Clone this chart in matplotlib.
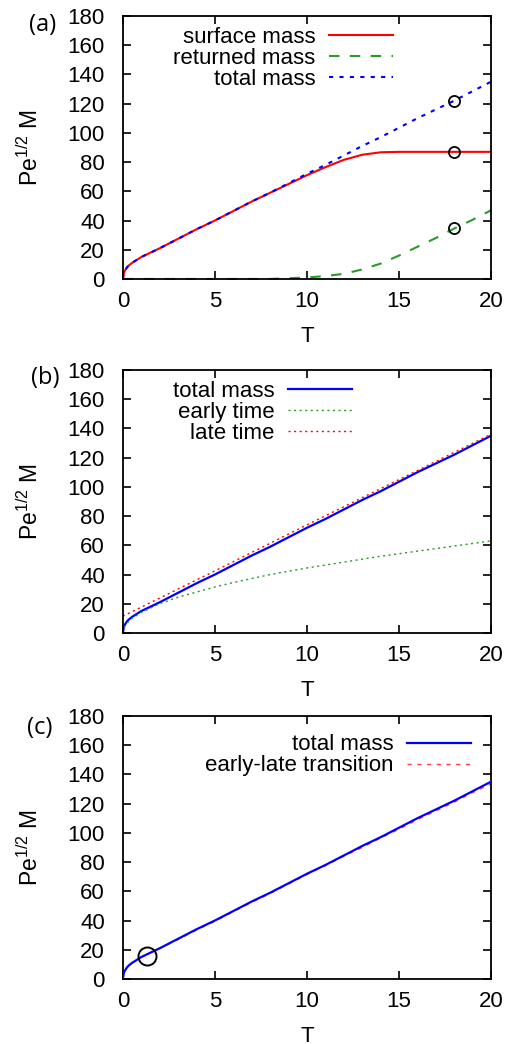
import matplotlib
matplotlib.use("Agg")
import matplotlib.pyplot as plt

plt.rcParams["font.family"] = ["Liberation Sans", "DejaVu Sans"]
plt.rcParams["mathtext.fontset"] = "custom"
plt.rcParams["mathtext.rm"] = "Liberation Sans"
plt.rcParams["mathtext.it"] = "Liberation Sans"

# time axis shared by the simulated curves
T = [0, 0.05, 0.1, 0.2, 0.3, 0.5, 0.75, 1, 1.5, 2, 3, 4, 5, 6, 7, 8, 9,
     10, 11, 12, 13, 14, 15, 16, 17, 18, 19, 20]
total_mass = [0, 4, 5.5, 7.5, 9, 11, 13, 15, 18, 21, 27.5, 34, 40, 46.5, 53,
              59, 65.5, 72, 78, 84.5, 91, 97, 103.5, 110, 116, 122, 128.5, 135]
surface_mass = [0, 4, 5.5, 7.5, 9, 11, 13, 15, 18, 21, 27.5, 34, 40, 46.5, 53,
                59, 65, 71, 76.5, 81.5, 85, 86.7, 87, 87, 87, 87, 87, 87]
returned_mass = [0, 0, 0, 0, 0, 0, 0, 0, 0, 0, 0, 0, 0, 0, 0, 0, 0.5,
                 1, 2, 3.5, 6.5, 10.5, 16, 22, 28, 34.5, 40.5, 47]

# asymptotic approximations (panel b)
T_early = [0, 0.1, 0.25, 0.5, 1, 2, 3, 4, 5, 6, 8, 10, 12, 14, 16, 18, 20]
early_time = [0, 4.4, 7, 10, 14, 20, 24.5, 28, 31.5, 34.5, 40, 44.5, 48.5,
              52.5, 56, 59.5, 63]
T_late = [0, 5, 10, 15, 20]
late_time = [11.5, 42.5, 74, 105, 136]

# blended approximation (panel c)
transition = [0, 4, 5.5, 7.5, 9, 11, 13, 15, 18, 21, 27, 33.5, 39.5, 46, 52.5,
              58.5, 65, 71.5, 77.5, 84, 90, 96.5, 102.5, 109, 115, 121, 127.5, 133.5]

# circled points
T_mark_a = 18
mark_a = [122, 87, 35]
T_mark_c = 1.3
mark_c = 15.7

fig = plt.figure(figsize=(5.12, 10.44), dpi=100)
L, W, H = 0.240, 0.719, 0.2519
ax_a = fig.add_axes([L, 0.7328, W, H])
ax_b = fig.add_axes([L, 0.3937, W, H])
ax_c = fig.add_axes([L, 0.0623, W, H])

FS = 16


def style(ax, tag, tag_x, tag_y):
    ax.set_xlim(0, 20)
    ax.set_ylim(0, 180)
    ax.set_xticks([0, 5, 10, 15, 20])
    ax.set_yticks(range(0, 181, 20))
    ax.tick_params(direction="in", length=6, width=1.2, labelsize=FS,
                   top=True, right=True)
    ax.tick_params(axis="x", pad=9)
    ax.tick_params(axis="y", pad=13)
    for s in ax.spines.values():
        s.set_linewidth(1.3)
    ax.set_xlabel("T", fontsize=FS)
    ax.xaxis.set_label_coords(0.5, -0.18)
    ax.set_ylabel(r"Pe$^{1/2}$ M", fontsize=FS + 0.5)
    ax.yaxis.set_label_coords(-0.217, 0.5)
    ax.text(tag_x, tag_y, tag, transform=ax.transAxes, fontsize=FS + 1,
            ha="center", va="center", family=["Open Sans", "DejaVu Sans"])


def legend(ax, x, y):
    ax.legend(loc="upper right", bbox_to_anchor=(x, y), frameon=False,
              markerfirst=False, fontsize=FS, handlelength=2.9,
              handletextpad=0.6, labelspacing=0.0, borderpad=0,
              borderaxespad=0)


# panel (a)
ax_a.plot(T, surface_mass, color="#ff0000", lw=1.5, label="surface mass")
ax_a.plot(T, returned_mass, color="#2a9a2a", lw=1.5, dashes=(5, 5),
          label="returned mass", clip_on=False)
ax_a.plot(T, total_mass, color="#0000ff", lw=1.5, dashes=(2, 3),
          label="total mass")
for v in mark_a:
    ax_a.plot(T_mark_a, v, "o", ms=8, mfc="none", mec="black", mew=1.3)
style(ax_a, "(a)", -0.217, 0.966)
legend(ax_a, 0.734, 0.958)

# panel (b)
ax_b.plot(T, total_mass, color="#0000ff", lw=1.6, label="total mass")
ax_b.plot(T_early, early_time, color="#2a9a2a", lw=1.0, dashes=(1.5, 2.5),
          label="early time")
ax_b.plot(T_late, late_time, color="#ff0000", lw=1.0, dashes=(1.5, 2.5),
          label="late time")
style(ax_b, "(b)", -0.212, 0.97)
legend(ax_b, 0.623, 0.96)

# panel (c)
ax_c.plot(T, total_mass, color="#0000ff", lw=1.6, label="total mass", zorder=3)
ax_c.plot(T, transition, color="#ff4040", lw=1.0, dashes=(3, 4),
          label="early-late transition", zorder=2)
ax_c.plot(T_mark_c, mark_c, "o", ms=13, mfc="none", mec="black", mew=1.4,
          zorder=4)
style(ax_c, "(c)", -0.225, 0.954)
legend(ax_c, 0.946, 0.93)

fig.savefig("out.png", dpi=100)
